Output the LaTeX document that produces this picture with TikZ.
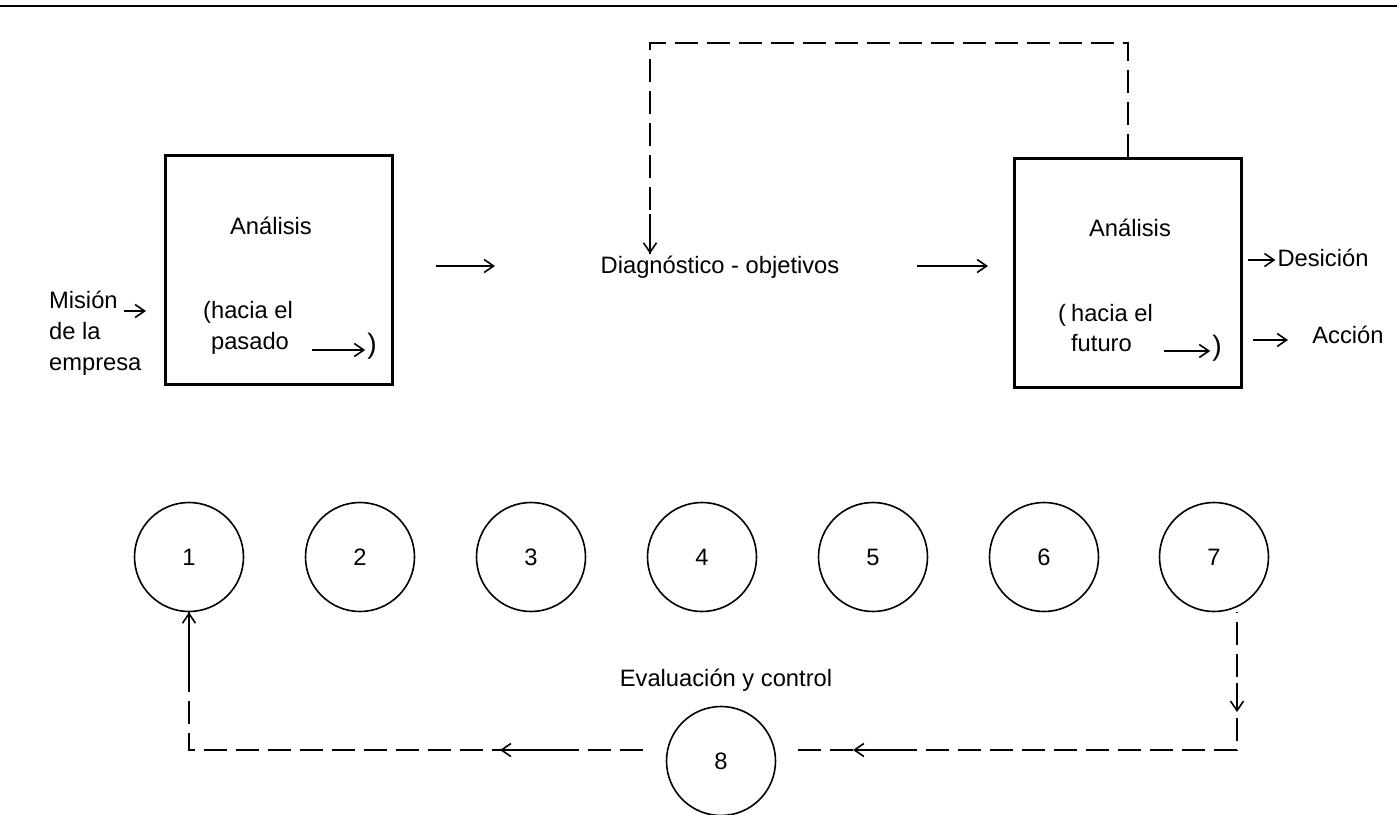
\documentclass[tikz,border=0pt]{standalone}
\usepackage{fontspec}
\setmainfont{Liberation Sans}
\usetikzlibrary{arrows.meta,calc}
\tikzset{
  texto/.style={inner sep=1pt,font=\fontsize{13.5}{17.5}\selectfont},
  caja/.style={draw,line width=0.45mm,minimum width=45.4mm,minimum height=45.8mm},
  etapa/.style={texto,draw,circle,line width=0.32mm,minimum size=21.8mm,inner sep=0pt},
  flecha/.style={-{Straight Barb[length=1.9mm,width=2.6mm]},line width=0.32mm},
  retro/.style={line width=0.35mm,dash pattern=on 4.6mm off 1.8mm},
}
\begin{document}
\begin{tikzpicture}[x=0.2mm,y=-0.2mm]
\useasboundingbox (0,0) rectangle (1397,815);
\draw[line width=0.35mm] (0,6) -- (1397,6);

% analisis hacia el pasado
\node[caja] (pasado) at (279,270) {};
\node[texto] (an1) at (271,226) {Análisis};
\node[texto,anchor=west,align=left] (hacia1) at (209,328) {\llap{(}hacia el\\pasado};
\node[texto,font=\fontsize{16}{18}\selectfont] (cierre1) at (372,346) {)};
\coordinate (p1) at (312,350);
\draw[flecha] (p1) -- (p1 -| cierre1.west);

\node[texto,anchor=west,align=left] (mision) at (47,333) {Misión\\de la\\empresa};
\coordinate (m1) at (124,311);
\coordinate (m2) at (146,311);
\draw[flecha] (m1) -- (m2);

% diagnostico
\node[texto] (diag) at (720,267) {Diagnóstico - objetivos};
\coordinate (a1) at (436,266);
\coordinate (a2) at (495,266);
\draw[flecha] (a1) -- (a2);
\coordinate (b1) at (917,266);
\coordinate (b2) at (988,266);
\draw[flecha] (b1) -- (b2);

% analisis hacia el futuro
\node[caja] (futuro) at (1128,273) {};
\node[texto] (an2) at (1130,228) {Análisis};
\node[texto,anchor=west,align=left] (hacia2) at (1069,328) {\llap{(\hspace{1mm}}hacia el\\futuro};
\node[texto,font=\fontsize{16}{18}\selectfont] (cierre2) at (1217,348) {)};
\coordinate (f1) at (1164,351);
\draw[flecha] (f1) -- (f1 -| cierre2.west);

\node[texto] (desicion) at (1323,258) {Desición};
\coordinate (d1) at (1248,260);
\draw[flecha] (d1) -- (d1 -| desicion.west);
\node[texto] (accion) at (1348,335) {Acción};
\coordinate (d2) at (1253,340);
\coordinate (d3) at (1288,340);
\draw[flecha] (d2) -- (d3);

\coordinate (retro) at (650,43);
\draw[retro] (futuro.north) |- (retro) -- (retro |- diag.north);
\draw[flecha] ($(retro |- diag.north)+(0,-40)$) -- (retro |- diag.north);

% etapas
\foreach \n/\x in {1/189,2/360,3/531,4/702,5/873,6/1044,7/1214}
{
\node[etapa] (c\n) at (\x,557) {\n};
}
\node[texto] (eval) at (726,680) {Evaluación y control};
\node[etapa] (c8) at (721,761) {8};

\coordinate (esq7) at (1237,750);
\coordinate (esq1) at (c1 |- esq7);
\coordinate (e1) at (798,750);
\coordinate (e2) at (643,750);
\draw[retro] (e1) -- (esq7) -- (c7.south -| esq7);
\draw[retro] (e2) -- (esq1) -- (c1.south);
\draw[flecha] ($(esq7)+(0,-67)$) -- ($(esq7)+(0,-38)$);
\draw[flecha] ($(e1)+(100,0)$) -- ($(e1)+(55,0)$);
\draw[flecha] ($(e2)+(-83,0)$) -- ($(e2)+(-143,0)$);
\draw[flecha] ($(c1.south)+(0,60)$) -- (c1.south);
\end{tikzpicture}
\end{document}
